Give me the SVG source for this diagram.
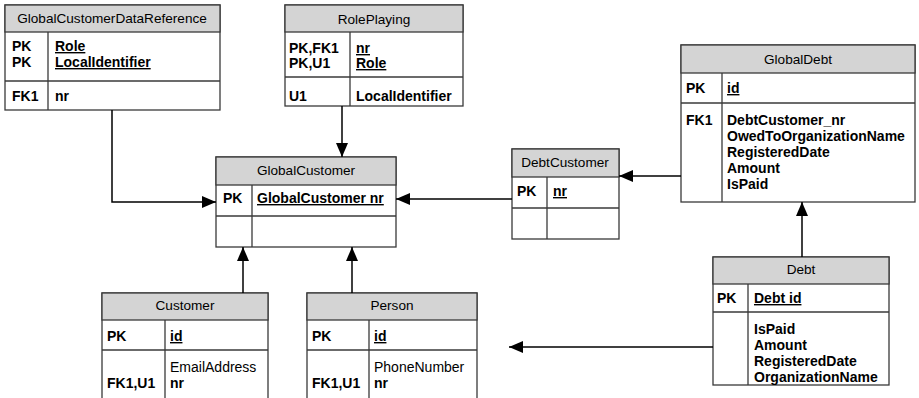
<svg xmlns="http://www.w3.org/2000/svg" width="919" height="398" viewBox="0 0 919 398">
<defs>
<style>
.box{fill:#fff;stroke:#3a3a3a;stroke-width:1.3}
.hd{fill:#d4d4d4;stroke:#3a3a3a;stroke-width:1.3}
.ln{stroke:#3a3a3a;stroke-width:1.3;fill:none}
.t{font-family:"Liberation Sans",Arial,sans-serif;font-size:14px;fill:#000}
.h{text-anchor:middle;font-size:13.6px}
.b{font-weight:bold}
.u{font-weight:bold;text-decoration:underline}
.c{stroke:#000;stroke-width:1.5;fill:none}
</style>
<marker id="arr" viewBox="0 0 14 12" refX="14" refY="6" markerWidth="14" markerHeight="12" markerUnits="userSpaceOnUse" orient="auto">
<path d="M0,0 L14,6 L0,12 Z" fill="#000"/>
</marker>
</defs>
<rect width="919" height="398" fill="#fff"/>

<g id="GlobalCustomerDataReference">
<rect class="box" x="5" y="5" width="215" height="105"/>
<rect class="hd" x="5" y="5" width="215" height="27"/>
<line class="ln" x1="5" y1="81" x2="220" y2="81"/>
<line class="ln" x1="48" y1="32" x2="48" y2="110"/>
<text class="t h" x="112" y="23">GlobalCustomerDataReference</text>
<text class="t b" x="12" y="51">PK</text>
<text class="t b" x="12" y="67">PK</text>
<text class="t u" x="55" y="51">Role</text>
<text class="t u" x="55" y="67">LocalIdentifier</text>
<text class="t b" x="12" y="101">FK1</text>
<text class="t b" x="55" y="101">nr</text>
</g>

<g id="RolePlaying">
<rect class="box" x="285" y="5" width="178" height="101"/>
<rect class="hd" x="285" y="5" width="178" height="27"/>
<line class="ln" x1="285" y1="77" x2="463" y2="77"/>
<line class="ln" x1="350" y1="32" x2="350" y2="106"/>
<text class="t h" x="374" y="24">RolePlaying</text>
<text class="t b" x="289" y="53">PK,FK1</text>
<text class="t b" x="289" y="68">PK,U1</text>
<text class="t u" x="356" y="53">nr</text>
<text class="t u" x="356" y="68">Role</text>
<text class="t b" x="289" y="101">U1</text>
<text class="t b" x="356" y="101">LocalIdentifier</text>
</g>

<g id="GlobalCustomer">
<rect class="box" x="216" y="157" width="180" height="90"/>
<rect class="hd" x="216" y="157" width="180" height="28"/>
<line class="ln" x1="216" y1="216" x2="396" y2="216"/>
<line class="ln" x1="252" y1="185" x2="252" y2="247"/>
<text class="t h" x="306" y="175">GlobalCustomer</text>
<text class="t b" x="223" y="203">PK</text>
<text class="t u" x="257" y="203">GlobalCustomer nr</text>
</g>

<g id="DebtCustomer">
<rect class="box" x="512" y="149" width="107" height="90"/>
<rect class="hd" x="512" y="149" width="107" height="28"/>
<line class="ln" x1="512" y1="208" x2="619" y2="208"/>
<line class="ln" x1="547" y1="177" x2="547" y2="239"/>
<text class="t h" x="565" y="167">DebtCustomer</text>
<text class="t b" x="517" y="196">PK</text>
<text class="t u" x="553" y="196">nr</text>
</g>

<g id="GlobalDebt">
<rect class="box" x="681" y="45" width="234" height="157"/>
<rect class="hd" x="681" y="45" width="234" height="28"/>
<line class="ln" x1="681" y1="103" x2="915" y2="103"/>
<line class="ln" x1="722" y1="73" x2="722" y2="202"/>
<text class="t h" x="798" y="64">GlobalDebt</text>
<text class="t b" x="686" y="93">PK</text>
<text class="t u" x="727" y="93">id</text>
<text class="t b" x="686" y="125">FK1</text>
<text class="t b" x="727" y="125">DebtCustomer_nr</text>
<text class="t b" x="727" y="141">OwedToOrganizationName</text>
<text class="t b" x="727" y="157">RegisteredDate</text>
<text class="t b" x="727" y="173">Amount</text>
<text class="t b" x="727" y="189">IsPaid</text>
</g>

<g id="Debt">
<rect class="box" x="713" y="257" width="176" height="128"/>
<rect class="hd" x="713" y="257" width="176" height="27"/>
<line class="ln" x1="713" y1="312" x2="889" y2="312"/>
<line class="ln" x1="748" y1="284" x2="748" y2="385"/>
<text class="t h" x="801" y="274">Debt</text>
<text class="t b" x="717" y="303">PK</text>
<text class="t u" x="754" y="303">Debt id</text>
<text class="t b" x="754" y="334">IsPaid</text>
<text class="t b" x="754" y="350">Amount</text>
<text class="t b" x="754" y="366">RegisteredDate</text>
<text class="t b" x="754" y="382">OrganizationName</text>
</g>

<g id="Customer">
<rect class="box" x="102" y="293" width="166" height="120"/>
<rect class="hd" x="102" y="293" width="166" height="27"/>
<line class="ln" x1="102" y1="350" x2="268" y2="350"/>
<line class="ln" x1="165" y1="320" x2="165" y2="413"/>
<text class="t h" x="185" y="310">Customer</text>
<text class="t b" x="107" y="341">PK</text>
<text class="t u" x="170" y="341">id</text>
<text class="t" x="170" y="372">EmailAddress</text>
<text class="t b" x="107" y="388">FK1,U1</text>
<text class="t b" x="170" y="388">nr</text>
</g>

<g id="Person">
<rect class="box" x="307" y="293" width="170" height="120"/>
<rect class="hd" x="307" y="293" width="170" height="27"/>
<line class="ln" x1="307" y1="350" x2="477" y2="350"/>
<line class="ln" x1="369" y1="320" x2="369" y2="413"/>
<text class="t h" x="392" y="310">Person</text>
<text class="t b" x="312" y="341">PK</text>
<text class="t u" x="374" y="341">id</text>
<text class="t" x="374" y="372">PhoneNumber</text>
<text class="t b" x="312" y="388">FK1,U1</text>
<text class="t b" x="374" y="388">nr</text>
</g>

<g id="connectors">
<polyline class="c" points="112,110 112,202 216,202" marker-end="url(#arr)"/>
<line class="c" x1="342" y1="106" x2="342" y2="157" marker-end="url(#arr)"/>
<line class="c" x1="512" y1="199" x2="396" y2="199" marker-end="url(#arr)"/>
<line class="c" x1="681" y1="176" x2="619" y2="176" marker-end="url(#arr)"/>
<line class="c" x1="243" y1="293" x2="243" y2="247" marker-end="url(#arr)"/>
<line class="c" x1="352" y1="293" x2="352" y2="247" marker-end="url(#arr)"/>
<line class="c" x1="802" y1="257" x2="802" y2="202" marker-end="url(#arr)"/>
<line class="c" x1="713" y1="347" x2="509" y2="347" marker-end="url(#arr)"/>
</g>
</svg>
